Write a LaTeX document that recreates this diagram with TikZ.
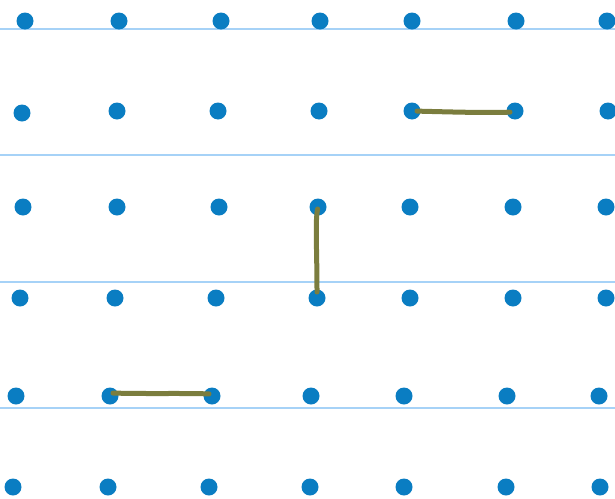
\documentclass[tikz,border=0pt]{standalone}
\usetikzlibrary{calc}
\begin{document}
\begin{tikzpicture}[x=1pt,y=-1pt,
  dot/.style={circle,fill=dotblue,inner sep=0pt,minimum size=17pt},
  rule/.style={draw=ruleblue,line width=1.5pt},
  pen/.style={draw=olive,line width=5pt,line cap=round,line join=round}]
\definecolor{dotblue}{HTML}{0A7DC2}
\definecolor{ruleblue}{HTML}{A6D2F7}
\definecolor{olive}{HTML}{7B7D3E}
\useasboundingbox (0,0) rectangle (615,498);
% rules
\foreach \y/\n in {29/1,155/2,282/3,408/4}{
  \coordinate (rl\n) at (0,\y);
  \coordinate (rr\n) at (615,\y);
  \draw[rule] (rl\n) -- (rr\n);
}
% dots
\foreach \x [count=\c] in {25,119,221,320,412,516,607} \node[dot] (d1-\c) at (\x,21) {};
\foreach \x [count=\c] in {22,117,218,319,412,515,608} {\ifnum\c=1 \node[dot] (d2-\c) at (\x,113) {};\else \node[dot] (d2-\c) at (\x,111) {};\fi}
\foreach \x [count=\c] in {23,117,219,318,410,513,606} \node[dot] (d3-\c) at (\x,207) {};
\foreach \x [count=\c] in {20,115,216,317,410,513,606} \node[dot] (d4-\c) at (\x,298) {};
\foreach \x [count=\c] in {16,110,212,311,404,507,599} \node[dot] (d5-\c) at (\x,396) {};
\foreach \x [count=\c] in {13,108,209,310,404,506,600} \node[dot] (d6-\c) at (\x,487) {};
% strokes
\draw[pen,shorten <=5pt,shorten >=5pt] (d2-5.center) .. controls ($(d2-5.center)!0.4!(d2-6.center)+(0,1)$) and ($(d2-5.center)!0.7!(d2-6.center)+(0,2)$) .. ($(d2-6.center)+(0,1)$);
\draw[pen,shorten <=2pt,shorten >=6pt] (d3-4.center) .. controls ($(d3-4.center)+(-3,15)$) and ($(d4-4.center)+(0,-50)$) .. (d4-4.center);
\draw[pen,shorten <=3pt,shorten >=3pt] ($(d5-2.center)+(0,-3)$) .. controls ($(d5-2.center)!0.4!(d5-3.center)+(0,-2)$) and ($(d5-2.center)!0.7!(d5-3.center)+(0,-3)$) .. ($(d5-3.center)+(0,-2)$);
\end{tikzpicture}
\end{document}
